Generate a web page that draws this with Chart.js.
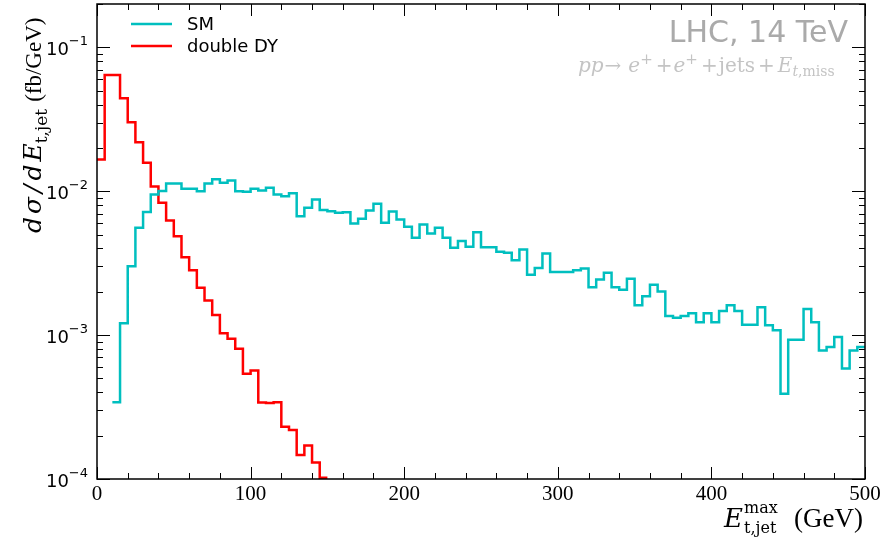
<!DOCTYPE html>
<html>
<head>
<meta charset="utf-8">
<script src="https://cdn.jsdelivr.net/npm/chart.js@4.4.1/dist/chart.umd.min.js"></script>
<style>
  body { margin: 0; background: #fff; }
</style>
</head>
<body>
<canvas id="chart_Et" width="885" height="540"></canvas>
<script>
// 5 GeV bins, values in fb/GeV
var binWidth = 5;

var smLabel = "SM";
var smStart = 10;
var smValues = [
  0.000342, 0.00121, 0.00301, 0.00557, 0.00716, 0.0095, 0.01002, 0.01133, 0.01133, 0.0104,
  0.0104, 0.0100, 0.01133, 0.0121, 0.01146, 0.01189, 0.0100, 0.00993, 0.0104, 0.01013,
  0.01057, 0.0095, 0.00924, 0.00966, 0.00671, 0.00768, 0.00877, 0.00739, 0.00727, 0.00708,
  0.00715, 0.00597, 0.00643, 0.00735, 0.00818, 0.00604, 0.00723, 0.00636, 0.00566, 0.00475,
  0.00587, 0.00509, 0.00557, 0.00475, 0.00404, 0.0045, 0.00411, 0.00519, 0.00408, 0.00408,
  0.00379, 0.00373, 0.00331, 0.00393, 0.00263, 0.00293, 0.00369, 0.00275, 0.00275, 0.00275,
  0.00282, 0.0029, 0.00215, 0.00243, 0.00271, 0.00215, 0.00207, 0.00246, 0.00161, 0.00186,
  0.00224, 0.00201, 0.00136, 0.00132, 0.00136, 0.00142, 0.00123, 0.00142, 0.00123, 0.00147,
  0.00161, 0.00147, 0.00118, 0.00118, 0.00156, 0.00117, 0.00108, 0.000391, 0.000929, 0.000929,
  0.00152, 0.00123, 0.000782, 0.000826, 0.00097, 0.000586, 0.000782, 0.000826
];

var dyLabel = "double DY";
var dyStart = 0;
var dyValues = [
  0.0166, 0.0643, 0.0643, 0.0443, 0.0301, 0.0219, 0.0158, 0.0108, 0.00832, 0.00626,
  0.00487, 0.00348, 0.00282, 0.00213, 0.00174, 0.00138, 0.00103, 0.000944, 0.000804, 0.000538,
  0.000568, 0.00034, 0.000337, 0.000342, 0.000231, 0.000219, 0.000147, 0.000171, 0.00013, 0.000102
];

var xTickValues = [0, 100, 200, 300, 400, 500];
var yDecades = [-4, -3, -2, -1];

var smColor = "#00bfbf";
var dyColor = "#ff0000";

// left bin edges + closing point at the last right edge
function toSteps(start, values) {
  var pts = [];
  for (var i = 0; i < values.length; i++) {
    pts.push({x: start + i * binWidth, y: values[i]});
  }
  pts.push({x: start + values.length * binWidth, y: values[values.length - 1]});
  return pts;
}

function drawParts(ctx, x, y, parts) {
  var cx = x;
  parts.forEach(function (p) {
    ctx.font = p.font;
    ctx.fillText(p.t, cx, y + (p.dy || 0));
    cx += ctx.measureText(p.t).width + (p.gap || 0);
  });
  return cx - x;
}

var SERIF = "'Liberation Serif', serif";
var DSERIF = "'DejaVu Serif', serif";
var SANS = "'DejaVu Sans', sans-serif";

var decorPlugin = {
  id: 'decor',
  afterDraw: function (chart) {
    var ctx = chart.ctx;
    var a = chart.chartArea;
    var xs = chart.scales.x, ys = chart.scales.y;
    ctx.save();

    // frame
    ctx.strokeStyle = "#000";
    ctx.lineWidth = 1.5;
    ctx.strokeRect(a.left, a.top, a.right - a.left, a.bottom - a.top);

    // x ticks, inward on bottom and top
    ctx.lineWidth = 1;
    for (var v = xs.min; v <= xs.max; v += 20) {
      var px = Math.round(xs.getPixelForValue(v)) + 0.5;
      var len = (v % 100 === 0) ? 12 : 6;
      ctx.beginPath();
      ctx.moveTo(px, a.bottom); ctx.lineTo(px, a.bottom - len);
      ctx.moveTo(px, a.top); ctx.lineTo(px, a.top + len);
      ctx.stroke();
    }

    // y ticks (log), inward on left and right, plus labels
    yDecades.forEach(function (e) {
      for (var m = 1; m <= 9; m++) {
        var val = m * Math.pow(10, e);
        if (val > ys.max * 1.0001) break;
        var py = Math.round(ys.getPixelForValue(val)) + 0.5;
        var len = (m === 1) ? 13 : 6;
        ctx.beginPath();
        ctx.moveTo(a.left, py); ctx.lineTo(a.left + len, py);
        ctx.moveTo(a.right, py); ctx.lineTo(a.right - len, py);
        ctx.stroke();
      }
      var yp = ys.getPixelForValue(Math.pow(10, e));
      ctx.fillStyle = "#000";
      ctx.textAlign = "left";
      ctx.textBaseline = "alphabetic";
      ctx.font = "13px " + SANS;
      var sup = "\u2212" + (-e);
      var supW = ctx.measureText(sup).width;
      ctx.font = "18px " + SANS;
      var baseW = ctx.measureText("10").width;
      var x0 = a.left - 9 - supW - baseW;
      ctx.fillText("10", x0, yp + 8);
      ctx.font = "13px " + SANS;
      ctx.fillText(sup, x0 + baseW, yp - 2);
    });

    // legend
    ctx.textBaseline = "middle";
    ctx.textAlign = "left";
    chart.data.datasets.forEach(function (ds, i) {
      var ly = 24 + i * 22;
      ctx.strokeStyle = ds.borderColor;
      ctx.lineWidth = 2.5;
      ctx.beginPath();
      ctx.moveTo(131, ly); ctx.lineTo(172, ly);
      ctx.stroke();
      ctx.fillStyle = "#000";
      ctx.font = "18px " + SANS;
      ctx.fillText(ds.label, 187, ly + 1);
    });

    // annotation
    ctx.textBaseline = "alphabetic";
    ctx.textAlign = "right";
    ctx.fillStyle = "#aaaaaa";
    ctx.font = "30px " + SANS;
    ctx.fillText("LHC, 14 TeV", 848, 42);

    ctx.textAlign = "left";
    ctx.fillStyle = "#c4c4c4";
    var procParts = [
      {t: "pp", font: "italic 20px " + DSERIF, gap: 1},
      {t: "\u2192", font: "20px " + DSERIF, gap: 7},
      {t: "e", font: "italic 20px " + DSERIF},
      {t: "+", font: "15px " + DSERIF, dy: -8, gap: 3},
      {t: "+", font: "20px " + DSERIF, gap: 1},
      {t: "e", font: "italic 20px " + DSERIF},
      {t: "+", font: "15px " + DSERIF, dy: -8, gap: 3},
      {t: "+", font: "20px " + DSERIF, gap: 1},
      {t: "jets", font: "20px " + DSERIF, gap: 3},
      {t: "+", font: "20px " + DSERIF, gap: 3},
      {t: "E", font: "italic 20px " + DSERIF},
      {t: "t", font: "italic 14px " + DSERIF, dy: 4},
      {t: ",miss", font: "14px " + DSERIF, dy: 4}
    ];
    drawParts(ctx, 578, 72, procParts);

    // x axis title
    ctx.fillStyle = "#000";
    var tx = 724, tb = 527;
    ctx.font = "italic 26px " + DSERIF;
    ctx.fillText("E", tx, tb);
    var eW = ctx.measureText("E").width;
    ctx.font = "16px " + DSERIF;
    ctx.fillText("t,jet", tx + eW + 1, tb + 6);
    ctx.fillText("max", tx + eW + 1, tb - 14);
    ctx.font = "27px " + SERIF;
    ctx.textAlign = "right";
    ctx.fillText("(GeV)", a.right - 2, tb);
    ctx.textAlign = "left";

    // y axis title (rotated)
    ctx.save();
    ctx.translate(41, 233);
    ctx.rotate(-Math.PI / 2);
    var yParts = [
      {t: "d", font: "italic 25px " + DSERIF, gap: 3},
      {t: "\u03c3", font: "italic 25px " + DSERIF, gap: 4},
      {t: "/", font: "italic 25px " + DSERIF, gap: 4},
      {t: "d", font: "italic 25px " + DSERIF, gap: 3},
      {t: "E", font: "italic 25px " + DSERIF},
      {t: "t,jet", font: "17px " + DSERIF, dy: 6, gap: 7},
      {t: "(fb/GeV)", font: "23px " + SERIF}
    ];
    drawParts(ctx, 0, 0, yParts);
    ctx.restore();

    ctx.restore();
  }
};

new Chart(document.getElementById("chart_Et"), {
  type: 'line',
  data: {
    datasets: [{
      label: smLabel,
      data: toSteps(smStart, smValues),
      borderColor: smColor,
      borderWidth: 2.5,
      stepped: true,
      pointRadius: 0,
      fill: false
    }, {
      label: dyLabel,
      data: toSteps(dyStart, dyValues),
      borderColor: dyColor,
      borderWidth: 2.5,
      stepped: true,
      pointRadius: 0,
      fill: false
    }]
  },
  options: {
    responsive: false,
    animation: false,
    devicePixelRatio: 1,
    layout: { padding: { top: 4, right: 20, left: 0, bottom: 0 } },
    plugins: {
      legend: { display: false },
      tooltip: { enabled: false }
    },
    scales: {
      x: {
        type: 'linear',
        min: 0,
        max: 500,
        grid: { display: false, drawTicks: false },
        border: { display: false },
        afterBuildTicks: function (s) {
          s.ticks = xTickValues.map(function (v) { return {value: v}; });
        },
        ticks: {
          color: "#000",
          font: { family: "'Liberation Serif', serif", size: 21 },
          padding: 3,
          maxRotation: 0,
          autoSkip: false
        },
        afterFit: function (s) { s.height = 61; }
      },
      y: {
        type: 'logarithmic',
        min: 1e-4,
        max: 0.2,
        grid: { display: false, drawTicks: false },
        border: { display: false },
        ticks: { display: false },
        afterFit: function (s) { s.width = 97; }
      }
    }
  },
  plugins: [decorPlugin]
});
</script>
</body>
</html>
